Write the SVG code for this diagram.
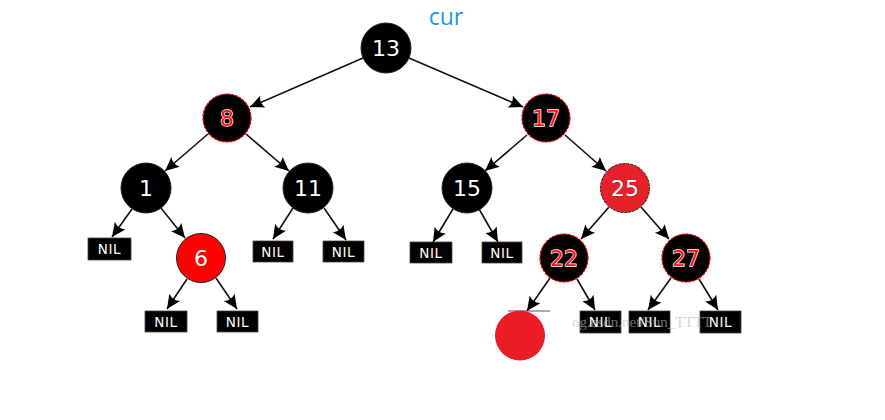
<svg xmlns="http://www.w3.org/2000/svg" width="885" height="420" viewBox="0 0 885 420">
<style>
.edge{stroke:#111;stroke-width:1.6;fill:none;marker-end:url(#arr)}
.blk{fill:#000;stroke:#222;stroke-width:1}
.rb{fill:#000;stroke:#d00;stroke-width:1.2;stroke-dasharray:3 1}
.red{fill:#ff0000;stroke:#222;stroke-width:1}
.red2{fill:#e8202a;stroke:#222;stroke-width:1;stroke-dasharray:3 1}
.num{font-family:"DejaVu Sans",sans-serif;font-size:22px;text-anchor:middle;fill:#fff}
.rnum{font-family:"DejaVu Sans",sans-serif;font-size:22px;text-anchor:middle;fill:#ff1010;stroke:#fff;stroke-width:1.4;paint-order:stroke}
.nil rect{fill:#000;stroke:#444;stroke-width:0.8}
.nil text{font-family:"DejaVu Sans",sans-serif;font-size:13.5px;letter-spacing:0.6px;text-anchor:middle;fill:#fff}
</style>
<defs>
<marker id="arr" markerUnits="userSpaceOnUse" markerWidth="18" markerHeight="16" viewBox="-16 -8 18 16" refX="0" refY="0" orient="auto">
<path d="M0,0 L-14,-6.5 Q-10,0 -14,6.5 Z" fill="#000"/>
</marker>
</defs>
<text x="446" y="25" font-family="'Open Sans','DejaVu Sans',sans-serif" font-size="23" fill="#1a9be2" text-anchor="middle">cur</text>
<g id="edges">
<line class="edge" x1="363" y1="58" x2="250" y2="107"/>
<line class="edge" x1="409" y1="58" x2="523" y2="107"/>
<line class="edge" x1="208" y1="134" x2="165" y2="171"/>
<line class="edge" x1="246" y1="134" x2="289" y2="171"/>
<line class="edge" x1="527" y1="135" x2="485" y2="171"/>
<line class="edge" x1="565" y1="135" x2="606" y2="171"/>
<line class="edge" x1="132" y1="209" x2="112" y2="237"/>
<line class="edge" x1="161" y1="208" x2="185" y2="238"/>
<line class="edge" x1="293" y1="208" x2="273" y2="239"/>
<line class="edge" x1="324" y1="208" x2="346" y2="240"/>
<line class="edge" x1="453" y1="209" x2="433" y2="242"/>
<line class="edge" x1="479" y1="209" x2="498" y2="242"/>
<line class="edge" x1="609" y1="207" x2="581" y2="239"/>
<line class="edge" x1="641" y1="207" x2="669" y2="239"/>
<line class="edge" x1="550" y1="278" x2="527" y2="311"/>
<line class="edge" x1="577" y1="279" x2="595" y2="310"/>
<line class="edge" x1="671" y1="278" x2="648" y2="310"/>
<line class="edge" x1="699" y1="279" x2="718" y2="310"/>
<line class="edge" x1="187" y1="279" x2="167" y2="309"/>
<line class="edge" x1="216" y1="278" x2="237" y2="309"/>
</g>
<g id="n13"><circle class="blk" cx="386" cy="48" r="25"/><text class="num" x="386" y="56">13</text></g>
<g id="n8"><circle class="rb" cx="227" cy="118" r="24"/><text class="rnum" x="227" y="126">8</text></g>
<g id="n17"><circle class="rb" cx="546" cy="118" r="24"/><text class="rnum" x="546" y="126">17</text></g>
<g id="n1"><circle class="blk" cx="146" cy="188" r="25"/><text class="num" x="146" y="196">1</text></g>
<g id="n11"><circle class="blk" cx="308" cy="188" r="25"/><text class="num" x="308" y="196">11</text></g>
<g id="n15"><circle class="blk" cx="467" cy="188" r="25"/><text class="num" x="467" y="196">15</text></g>
<g id="n25"><circle class="red2" cx="625" cy="188" r="24.5"/><text class="num" x="625" y="196" stroke="#444" stroke-width="0.6" paint-order="stroke">25</text></g>
<g id="n6"><circle class="red" cx="201" cy="258" r="24.5"/><text class="num" x="201" y="266">6</text></g>
<g id="n22"><circle class="rb" cx="564" cy="258" r="24"/><text class="rnum" x="564" y="266">22</text></g>
<g id="n27"><circle class="rb" cx="686" cy="258" r="24"/><text class="rnum" x="686" y="266">27</text></g>
<g id="nil1" class="nil"><rect x="88" y="238" width="43" height="22"/><text x="109.5" y="254">NIL</text></g>
<g id="nil2" class="nil"><rect x="253" y="241" width="40" height="21"/><text x="273" y="256.5">NIL</text></g>
<g id="nil3" class="nil"><rect x="323" y="241" width="41" height="21"/><text x="343.5" y="256.5">NIL</text></g>
<g id="nil4" class="nil"><rect x="410" y="242" width="42" height="21"/><text x="431" y="257.5">NIL</text></g>
<g id="nil5" class="nil"><rect x="482" y="242" width="40" height="21"/><text x="502" y="257.5">NIL</text></g>
<g id="nil6" class="nil"><rect x="145" y="311" width="42" height="21"/><text x="166" y="326.5">NIL</text></g>
<g id="nil7" class="nil"><rect x="217" y="311" width="41" height="21"/><text x="237.5" y="326.5">NIL</text></g>
<g id="nil8" class="nil"><rect x="580" y="311" width="41" height="22"/><text x="600.5" y="327">NIL</text></g>
<g id="nil9" class="nil"><rect x="629" y="311" width="41" height="22"/><text x="649.5" y="327">NIL</text></g>
<g id="nil10" class="nil"><rect x="700" y="311" width="41" height="22"/><text x="720.5" y="327">NIL</text></g>
<g id="newnode"><line x1="508" y1="311" x2="550" y2="311" stroke="#555" stroke-width="1"/><circle cx="520" cy="335.5" r="25" fill="#ec1c24"/></g>
<text x="572" y="327" font-family="'Liberation Serif',serif" font-size="15" fill="#bbbbbb" opacity="0.6">og.csdn.net/Sun_TTTT</text>
</svg>
